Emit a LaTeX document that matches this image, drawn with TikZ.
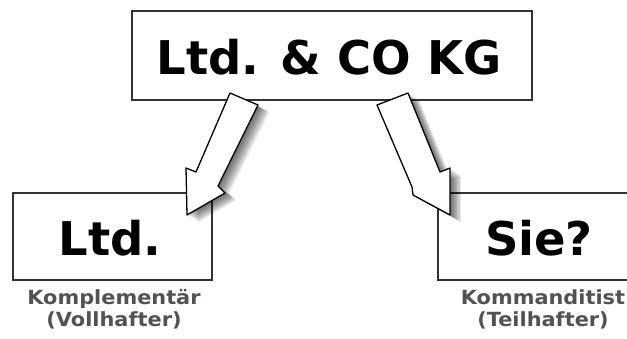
\documentclass[tikz,border=0pt]{standalone}
\usepackage{fontspec}
\setmainfont{DejaVu Sans}
\begin{document}
\begin{tikzpicture}[x=1pt,y=-1pt,
  boxstyle/.style={draw=black!80, line width=1.6pt, fill=white, inner sep=0pt},
  bigtext/.style={font=\fontsize{46.5}{50}\selectfont\bfseries},
  smalltext/.style={font=\fontsize{19.5}{22}\selectfont\bfseries, text=black!68, align=center, inner sep=0pt, xscale=1.07, transform shape},
  arrowbody/.style={draw=black, line width=1.3pt, fill=white, line join=round},
  arrowshade/.style={fill=black, opacity=0.09}
]
\useasboundingbox (0,0) rectangle (627,338);
\fill[white] (0,0) rectangle (627,338);

% boxes
\node[boxstyle, minimum width=400pt, minimum height=89pt] (top) at (332,55.5) {};
\node[bigtext] (toptext) at (329,57) {Ltd. \& CO KG};

\node[boxstyle, minimum width=199pt, minimum height=87pt] (ltd) at (112.5,236.5) {};
\node[bigtext] (ltdtext) at (110,238) {Ltd.};

\node[minimum width=189pt, minimum height=87pt, inner sep=0pt] (sie) at (532.5,236.5) {};
\draw[draw=black!80, line width=1.6pt] (sie.north east) -- (sie.north west) -- (sie.south west) -- (sie.south east);
\node[bigtext] (sietext) at (539,238) {Sie?};

% labels
\node[smalltext] (lab1) at (114,309) {Komplementär\\(Vollhafter)};
\node[smalltext] (lab2) at (543,309) {Kommanditist\\(Teilhafter)};

% left arrow: shadow layers
\foreach \i in {1,...,8}{
  \fill[arrowshade, shift={(1.4*\i pt,-0.9*\i pt)}]
    (230,93) -- (258,105) -- (218,186) -- (225,193) -- (187,215) -- (186,168) -- (196,172) -- cycle;
}
\draw[arrowbody] (230,93) -- (258,105) -- (218,186) -- (225,193) -- (187,215) -- (186,168) -- (196,172) -- cycle;

% right arrow: shadow layers
\foreach \i in {1,...,8}{
  \fill[arrowshade, shift={(1.4*\i pt,-0.9*\i pt)}]
    (377,105) -- (408,93) -- (440,172) -- (450,168) -- (450,215) -- (413,195) -- (412,187) -- cycle;
}
\draw[arrowbody] (377,105) -- (408,93) -- (440,172) -- (450,168) -- (450,215) -- (413,195) -- (412,187) -- cycle;
\end{tikzpicture}
\end{document}
